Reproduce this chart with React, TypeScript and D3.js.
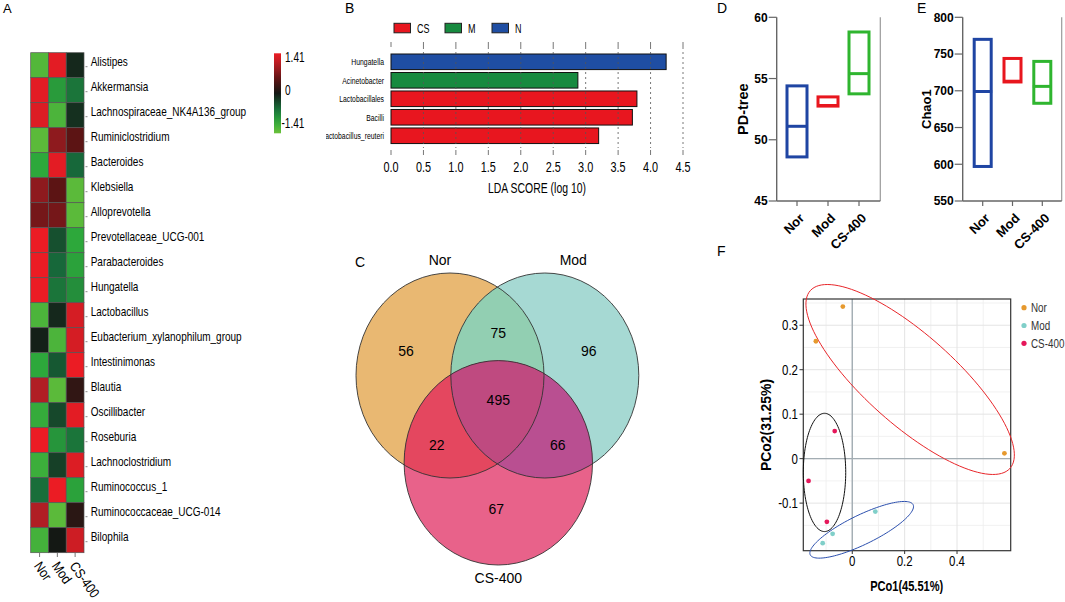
import React from "react";
import * as d3 from "d3";

const SANS = "'Liberation Sans', Arial, Helvetica, sans-serif";

// ---- A: heatmap ----
const heatTaxa = [
  "Alistipes", "Akkermansia", "Lachnospiraceae_NK4A136_group", "Ruminiclostridium",
  "Bacteroides", "Klebsiella", "Alloprevotella", "Prevotellaceae_UCG-001",
  "Parabacteroides", "Hungatella", "Lactobacillus", "Eubacterium_xylanophilum_group",
  "Intestinimonas", "Blautia", "Oscillibacter", "Roseburia", "Lachnoclostridium",
  "Ruminococcus_1", "Ruminococcaceae_UCG-014", "Bilophila",
];
const heatGroups = ["Nor", "Mod", "CS-400"];
const heatNor = [-1.25, 1.35, 1.3, -1.3, -1.0, 0.8, 0.65, 1.4, 1.4, 1.4, -1.2, -0.05, -1.0, 1.0, -1.05, 1.4, -1.1, -0.55, 1.0, -1.15];
const heatMod = [1.35, -0.9, -1.2, 0.8, 1.35, 0.5, 0.65, -0.35, -0.5, -0.6, -0.1, -1.2, -0.4, -1.3, -0.3, -0.85, -0.25, 1.4, -1.3, 0.0];
const heatCS = [-0.1, -0.6, -0.15, 0.5, -0.5, -1.3, -1.3, -1.0, -0.95, -0.8, 1.25, 1.25, 1.4, 0.2, 1.35, -0.6, 1.3, -0.95, 0.15, 1.2];
const heatLegendTicks = [1.41, 0, -1.41];

// ---- B: LEfSe ----
const ldaTaxa = ["Hungatella", "Acinetobacter", "Lactobacillales", "Bacilli", "Lactobacillus_reuteri"];
const ldaScore = [4.24, 2.88, 3.79, 3.72, 3.2];
const ldaClass = ["N", "M", "CS", "CS", "CS"];
const ldaLegend = ["CS", "M", "N"];
const ldaColors = ["#e8161f", "#178a3f", "#1f4ea3"];
const ldaTicks = [0, 0.5, 1, 1.5, 2, 2.5, 3, 3.5, 4, 4.5];

// ---- C: Venn ----
const vennSets = ["Nor", "Mod", "CS-400"];
const vennOnly = [56, 96, 67];
const vennPairs = [75, 22, 66]; // Nor&Mod, Nor&CS, Mod&CS
const vennAll = 495;

// ---- D / E: alpha diversity ----
const alphaGroups = ["Nor", "Mod", "CS-400"];
const alphaColors = ["#1f45a3", "#e8161e", "#2fb52f"];
const pdMin = [48.6, 52.75, 53.75];
const pdMax = [54.4, 53.5, 58.8];
const pdMed = [51.1, 52.8, 55.4];
const pdTicks = [45, 50, 55, 60];
const chaoMin = [597, 712, 683];
const chaoMax = [770, 744, 740];
const chaoMed = [699, 713, 706];
const chaoTicks = [550, 600, 650, 700, 750, 800];

// ---- F: PCoA ----
const pcoGroup = ["Nor", "Nor", "Nor", "Mod", "Mod", "Mod", "CS-400", "CS-400", "CS-400"];
const pco1 = [-0.036, -0.139, 0.581, 0.088, -0.075, -0.113, -0.067, -0.167, -0.097];
const pco2 = [0.342, 0.264, 0.012, -0.119, -0.169, -0.19, 0.062, -0.05, -0.142];
const pcoLegend = ["Nor", "Mod", "CS-400"];
const pcoColors = ["#e6992e", "#80cfc9", "#e5175a"];
const pcoXTicks = [0, 0.2, 0.4];
const pcoYTicks = [-0.1, 0, 0.1, 0.2, 0.3];
const ellColors = ["#e8262a", "#2b4fae", "#111111"];
const ellCx = [0.221, 0.036, -0.106];
const ellCy = [0.178, -0.16, -0.031];
const ellU = [[0.381, -0.2], [0.1964, 0.0564], [0.081, 0]];
const ellV = [[-0.115, -0.075], [0.0246, -0.0297], [0, 0.133]];

const heatColor = d3
  .scaleLinear<string>()
  .domain([-1.41, -1.0, -0.5, 0, 0.5, 1.0, 1.41])
  .range(["#6cc13a", "#2da83b", "#17683a", "#141814", "#5c1414", "#b01e24", "#ec1c24"])
  .clamp(true);

// condensed text: Liberation Sans squeezed horizontally
const NText: React.FC<{
  x: number; y: number; size: number; sx?: number; rot?: number; anchor?: string;
  weight?: string; fill?: string; dy?: string; children: React.ReactNode;
}> = ({ x, y, size, sx = 0.8, rot = 0, anchor = "start", weight = "normal", fill = "#000", dy, children }) => (
  <text transform={`translate(${x},${y}) rotate(${rot}) scale(${sx},1)`} textAnchor={anchor} dy={dy}
    fontFamily={SANS} fontSize={size} fontWeight={weight} fill={fill}>{children}</text>
);

const RangePanel: React.FC<{
  letter: string; letterX: number; left: number; right: number; top: number; bottom: number;
  domain: [number, number]; ticks: number[]; title: string; titleX: number; titleSize: number;
  mins: number[]; maxs: number[]; meds: number[]; cats: [number, number]; boxW: number;
}> = (p) => {
  const y = d3.scaleLinear().domain(p.domain).range([p.bottom, p.top]);
  const x = d3.scalePoint<string>().domain(alphaGroups).range(p.cats);
  return (
    <g>
      <text x={p.letterX} y={13} fontFamily={SANS} fontSize={14}>{p.letter}</text>
      <line x1={p.right} x2={p.right} y1={p.top} y2={p.bottom} stroke="#9a9a9a" strokeWidth={1.2} />
      <line x1={p.left} x2={p.left} y1={p.top} y2={p.bottom} stroke="#666" strokeWidth={1.4} />
      <line x1={p.left} x2={p.right} y1={p.bottom} y2={p.bottom} stroke="#666" strokeWidth={1.4} />
      {p.ticks.map((t) => (
        <g key={t}>
          <line x1={p.left - 8} x2={p.left} y1={y(t)} y2={y(t)} stroke="#666" strokeWidth={1.2} />
          <text x={p.left - 9} y={y(t)} dy="0.36em" textAnchor="end" fontFamily={SANS} fontWeight="bold" fontSize={12}>{t}</text>
        </g>
      ))}
      <text transform={`translate(${p.titleX},${(p.top + p.bottom) / 2}) rotate(-90)`} textAnchor="middle"
        fontFamily={SANS} fontWeight="bold" fontSize={p.titleSize}>{p.title}</text>
      {alphaGroups.map((g, i) => {
        const cx = x(g)!;
        return (
          <g key={g}>
            <line x1={cx} x2={cx} y1={p.bottom} y2={p.bottom + 5} stroke="#666" strokeWidth={1.2} />
            <text transform={`translate(${cx + 8},${p.bottom + 18}) rotate(-45)`} textAnchor="end"
              fontFamily={SANS} fontWeight="bold" fontSize={13}>{g}</text>
            <rect x={cx - p.boxW / 2} y={y(p.maxs[i])} width={p.boxW} height={y(p.mins[i]) - y(p.maxs[i])}
              fill="none" stroke={alphaColors[i]} strokeWidth={3} />
            <line x1={cx - p.boxW / 2 - 1} x2={cx + p.boxW / 2 + 1} y1={y(p.meds[i])} y2={y(p.meds[i])}
              stroke={alphaColors[i]} strokeWidth={3} />
          </g>
        );
      })}
    </g>
  );
};

const App: React.FC = () => {
  // A
  const hx = d3.scaleBand<string>().domain(heatGroups).range([30.7, 84]);
  const hy = d3.scaleBand<string>().domain(heatTaxa).range([52.7, 552.7]);
  const heatCols = [heatNor, heatMod, heatCS];
  const legendLabelY = d3.scaleLinear().domain([1.41, -1.41]).range([57, 123]);
  const gradStops = d3.range(0, 1.001, 0.1).map((f) => ({ f, c: heatColor(1.41 - f * 2.82) }));

  // B
  const lx = d3.scaleLinear().domain([0, 4.5]).range([391, 683]);
  const ly = d3.scaleBand<string>().domain(ldaTaxa).range([52.15, 145.4]).paddingInner(0.157).paddingOuter(0.1);
  const ldaColor = d3.scaleOrdinal<string, string>().domain(ldaLegend).range(ldaColors);
  const legendX = [394, 445, 492];

  // C
  const circles = [
    { cx: 450, cy: 375.5, rx: 94, ry: 102.5 },
    { cx: 544.8, cy: 375.5, rx: 94, ry: 102.5 },
    { cx: 498.3, cy: 462.8, rx: 94.2, ry: 102.2 },
  ];
  const onlyFill = ["#e9b872", "#a6d9d3", "#e8628a"];
  const pairFill = ["#92cfb2", "#e4475f", "#b94f91"];
  const allFill = "#bf4a80";
  const onlyPos = [[-44, -25], [44, -25], [-2, 46]];
  const pairPos = [[498.3, 332.7], [436.7, 445], [557.7, 445]];

  // F
  const fx = d3.scaleLinear().domain([-0.187, 0.605]).range([803.3, 1010.7]);
  const fy = d3.scaleLinear().domain([-0.207, 0.359]).range([550.7, 299]);
  const pcoColor = d3.scaleOrdinal<string, string>().domain(pcoLegend).range(pcoColors);
  const minorX = [-0.1, 0.1, 0.3, 0.5];
  const minorY = [-0.15, -0.05, 0.05, 0.15, 0.25, 0.35];
  const ellLine = d3.line<[number, number]>().x((d) => d[0]).y((d) => d[1]).curve(d3.curveLinearClosed);
  const ellPaths = ellColors.map((_, i) =>
    ellLine(
      d3.range(0, 2 * Math.PI, Math.PI / 60).map((t) => [
        fx(ellCx[i] + ellU[i][0] * Math.cos(t) + ellV[i][0] * Math.sin(t)),
        fy(ellCy[i] + ellU[i][1] * Math.cos(t) + ellV[i][1] * Math.sin(t)),
      ] as [number, number])
    )
  );

  return (
    <svg width={1065} height={602} style={{ position: "absolute", left: 0, top: 0, background: "#fff" }}>
      <defs>
        <linearGradient id="heatGrad" x1="0" y1="0" x2="0" y2="1">
          {gradStops.map((s) => <stop key={s.f} offset={s.f} stopColor={s.c} />)}
        </linearGradient>
        <clipPath id="ldaLabClip"><rect x={326} y={40} width={70} height={120} /></clipPath>
        {circles.map((c, i) => (
          <clipPath key={i} id={`venn${i}`}><ellipse cx={c.cx} cy={c.cy} rx={c.rx} ry={c.ry} /></clipPath>
        ))}
        <clipPath id="fClip"><rect x={803.3} y={299} width={207.4} height={251.7} /></clipPath>
      </defs>

      {/* A heatmap */}
      <text x={3} y={13} fontFamily={SANS} fontSize={13}>A</text>
      {heatTaxa.map((t, r) => (
        <g key={t}>
          {heatGroups.map((g, c) => (
            <rect key={g} x={hx(g)} y={hy(t)} width={hx.bandwidth()} height={hy.bandwidth()}
              fill={heatColor(heatCols[c][r])} stroke="#555" strokeWidth={0.7} />
          ))}
          <line x1={85.5} x2={87.5} y1={hy(t)! + hy.bandwidth() / 2 + 1.5} y2={hy(t)! + hy.bandwidth() / 2 + 1.5} stroke="#888" />
          <NText x={90.7} y={hy(t)! + hy.bandwidth() / 2 + 1} size={12.5}>{t}</NText>
        </g>
      ))}
      {heatGroups.map((g) => {
        const cx = hx(g)! + hx.bandwidth() / 2;
        return (
          <g key={g}>
            <line x1={cx} x2={cx} y1={553} y2={557} stroke="#777" />
            <NText x={cx - 6} y={566} rot={55} size={14} sx={0.85}>{g}</NText>
          </g>
        );
      })}
      <rect x={274} y={53.3} width={7} height={80} fill="url(#heatGrad)" />
      {heatLegendTicks.map((t) => (
        <NText key={t} x={t < 0 ? 281.5 : 285} y={legendLabelY(t)} dy="0.36em" size={14} sx={0.72}>{t}</NText>
      ))}

      {/* B LEfSe */}
      <text x={345} y={13} fontFamily={SANS} fontSize={14}>B</text>
      {ldaLegend.map((l, i) => (
        <g key={l}>
          <rect x={legendX[i]} y={23.3} width={16.5} height={9.5} fill={ldaColors[i]} stroke="#222" strokeWidth={1} />
          <NText x={legendX[i] + 23} y={32.5} size={12.5} sx={0.72}>{l}</NText>
        </g>
      ))}
      {ldaTaxa.map((t, i) => (
        <rect key={t} x={lx(0)} y={ly(t)} width={lx(ldaScore[i]) - lx(0)} height={ly.bandwidth()}
          fill={ldaColor(ldaClass[i])} stroke="#111" strokeWidth={1} />
      ))}
      {ldaTicks.map((t) => (
        <g key={t}>
          <line x1={lx(t)} x2={lx(t)} y1={42} y2={47} stroke="#777" />
          <line x1={lx(t)} x2={lx(t)} y1={150} y2={155} stroke="#777" />
          {t > 0 && <line x1={lx(t)} x2={lx(t)} y1={47} y2={148} stroke="#555" strokeDasharray="2,3" strokeWidth={0.8} />}
          <NText x={lx(t)} y={172} anchor="middle" size={14.5} sx={0.75}>{t.toFixed(1)}</NText>
        </g>
      ))}
      <NText x={537} y={193} anchor="middle" size={14.5} sx={0.72}>LDA SCORE (log 10)</NText>
      <g clipPath="url(#ldaLabClip)">
        {ldaTaxa.map((t) => (
          <NText key={t} x={384} y={ly(t)! + ly.bandwidth() / 2} dy="0.35em" anchor="end" size={9.5} sx={0.72}>{t}</NText>
        ))}
      </g>

      {/* C Venn */}
      <text x={355} y={267} fontFamily={SANS} fontSize={14}>C</text>
      {circles.map((c, i) => (
        <ellipse key={i} cx={c.cx} cy={c.cy} rx={c.rx} ry={c.ry} fill={onlyFill[i]} />
      ))}
      <g clipPath="url(#venn0)">
        <ellipse cx={circles[1].cx} cy={circles[1].cy} rx={circles[1].rx} ry={circles[1].ry} fill={pairFill[0]} />
        <ellipse cx={circles[2].cx} cy={circles[2].cy} rx={circles[2].rx} ry={circles[2].ry} fill={pairFill[1]} />
      </g>
      <g clipPath="url(#venn1)">
        <ellipse cx={circles[2].cx} cy={circles[2].cy} rx={circles[2].rx} ry={circles[2].ry} fill={pairFill[2]} />
      </g>
      <g clipPath="url(#venn0)">
        <g clipPath="url(#venn1)">
          <ellipse cx={circles[2].cx} cy={circles[2].cy} rx={circles[2].rx} ry={circles[2].ry} fill={allFill} />
        </g>
      </g>
      {circles.map((c, i) => (
        <ellipse key={i} cx={c.cx} cy={c.cy} rx={c.rx} ry={c.ry} fill="none" stroke="#333" strokeWidth={0.9} />
      ))}
      {vennOnly.map((v, i) => (
        <text key={i} x={circles[i].cx + onlyPos[i][0]} y={circles[i].cy + onlyPos[i][1]} dy="0.36em"
          textAnchor="middle" fontFamily={SANS} fontSize={14}>{v}</text>
      ))}
      {vennPairs.map((v, i) => (
        <text key={i} x={pairPos[i][0]} y={pairPos[i][1]} dy="0.36em" textAnchor="middle" fontFamily={SANS} fontSize={14}>{v}</text>
      ))}
      <text x={498.3} y={400} dy="0.36em" textAnchor="middle" fontFamily={SANS} fontSize={14}>{vennAll}</text>
      <text x={440} y={265} textAnchor="middle" fontFamily={SANS} fontSize={14}>{vennSets[0]}</text>
      <text x={573.3} y={265} textAnchor="middle" fontFamily={SANS} fontSize={14}>{vennSets[1]}</text>
      <text x={498.3} y={583} textAnchor="middle" fontFamily={SANS} fontSize={14}>{vennSets[2]}</text>

      {/* D / E */}
      <RangePanel letter="D" letterX={717} left={776.7} right={880.3} top={17.3} bottom={201}
        domain={[45, 60]} ticks={pdTicks} title="PD-tree" titleX={748} titleSize={14.5}
        mins={pdMin} maxs={pdMax} meds={pdMed} cats={[797, 859]} boxW={20} />
      <RangePanel letter="E" letterX={917} left={962.7} right={1061.7} top={17.3} bottom={201}
        domain={[550, 800]} ticks={chaoTicks} title="Chao1" titleX={931} titleSize={13}
        mins={chaoMin} maxs={chaoMax} meds={chaoMed} cats={[982.7, 1042.3]} boxW={17} />

      {/* F PCoA */}
      <text x={717} y={256} fontFamily={SANS} fontSize={14}>F</text>
      <g clipPath="url(#fClip)">
        {minorX.map((v) => <line key={v} x1={fx(v)} x2={fx(v)} y1={299} y2={550.7} stroke="#ededed" strokeWidth={0.8} />)}
        {minorY.map((v) => <line key={v} x1={803.3} x2={1010.7} y1={fy(v)} y2={fy(v)} stroke="#ededed" strokeWidth={0.8} />)}
        {pcoXTicks.map((v) => <line key={v} x1={fx(v)} x2={fx(v)} y1={299} y2={550.7} stroke="#e4e4e4" strokeWidth={1} />)}
        {pcoYTicks.map((v) => <line key={v} x1={803.3} x2={1010.7} y1={fy(v)} y2={fy(v)} stroke="#e4e4e4" strokeWidth={1} />)}
        <line x1={fx(0)} x2={fx(0)} y1={299} y2={550.7} stroke="#a3adb3" strokeWidth={1.4} />
        <line x1={803.3} x2={1010.7} y1={fy(0)} y2={fy(0)} stroke="#a3adb3" strokeWidth={1.4} />
      </g>
      <rect x={803.3} y={299} width={207.4} height={251.7} fill="none" stroke="#333" strokeWidth={1.2} />
      {pcoXTicks.map((v) => (
        <g key={v}>
          <line x1={fx(v)} x2={fx(v)} y1={550.7} y2={554} stroke="#333" />
          <NText x={fx(v)} y={566} anchor="middle" size={14} sx={0.82}>{v}</NText>
        </g>
      ))}
      {pcoYTicks.map((v) => (
        <g key={v}>
          <line x1={799.5} x2={803.3} y1={fy(v)} y2={fy(v)} stroke="#333" />
          <NText x={798} y={fy(v)} dy="0.36em" anchor="end" size={14} sx={0.82}>{v}</NText>
        </g>
      ))}
      <NText x={906.7} y={591} anchor="middle" weight="bold" size={14} sx={0.79}>PCo1(45.51%)</NText>
      <NText x={771} y={425} rot={-90} anchor="middle" weight="bold" size={15} sx={0.93}>PCo2(31.25%)</NText>
      {ellPaths.map((d, i) => <path key={i} d={d ?? ""} fill="none" stroke={ellColors[i]} strokeWidth={1} />)}
      {pco1.map((v, i) => (
        <circle key={i} cx={fx(v)} cy={fy(pco2[i])} r={2.4} fill={pcoColor(pcoGroup[i])} />
      ))}
      {pcoLegend.map((l, i) => (
        <g key={l}>
          <circle cx={1024} cy={307.7 + i * 17.8} r={2.6} fill={pcoColors[i]} />
          <NText x={1031} y={307.7 + i * 17.8} dy="0.36em" size={12} sx={0.82} fill="#333">{l}</NText>
        </g>
      ))}
    </svg>
  );
};

export default App;
